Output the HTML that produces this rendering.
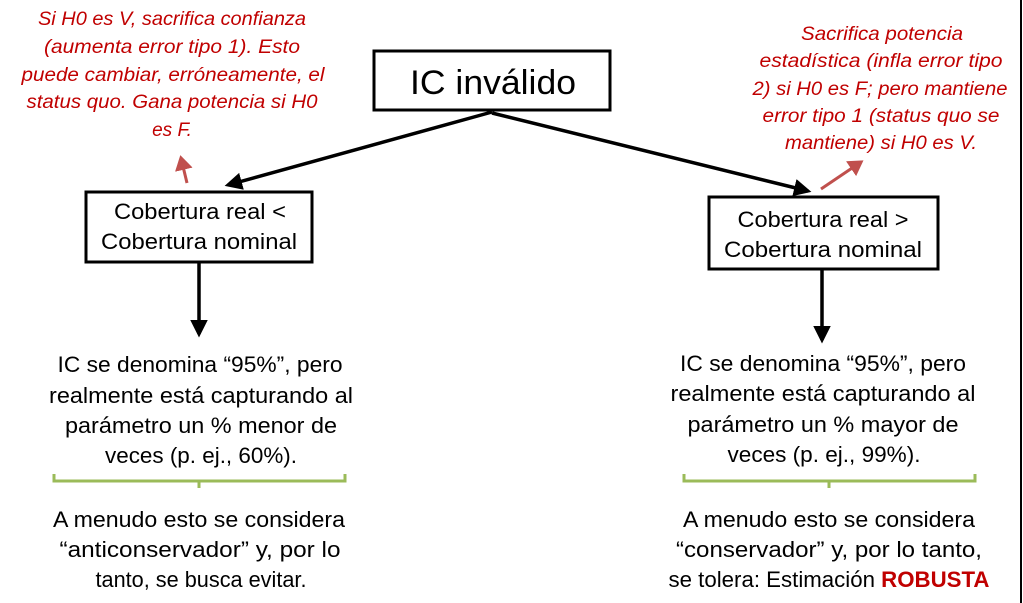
<!DOCTYPE html>
<html><head><meta charset="utf-8"><style>
html,body{margin:0;padding:0;background:#fff;}
svg{display:block;}
text{font-family:"Liberation Sans",sans-serif;}
.r{fill:#c00000;font-style:italic;font-size:19px;}
.b{fill:#000;font-size:22px;}
</style></head><body>
<svg width="1023" height="603" viewBox="0 0 1023 603" xmlns="http://www.w3.org/2000/svg">
<defs>
<marker id="ak" markerWidth="6" markerHeight="6" refX="4" refY="3" orient="auto" markerUnits="strokeWidth"><path d="M0,0.5 L5,3 L0,5.5 z" fill="#000"/></marker>
<marker id="ar" markerWidth="6" markerHeight="6" refX="4" refY="3" orient="auto" markerUnits="strokeWidth"><path d="M0,0 L5,3 L0,6 z" fill="#c0504d"/></marker>
</defs>
<line x1="1021" y1="0" x2="1021" y2="603" stroke="#000" stroke-width="2"/>
<rect x="374" y="51" width="236" height="59" fill="#fff" stroke="#000" stroke-width="3"/>
<text x="493" y="94" text-anchor="middle" font-size="34" textLength="166" lengthAdjust="spacingAndGlyphs">IC inválido</text>
<rect x="86" y="192" width="226" height="70" fill="#fff" stroke="#000" stroke-width="3"/>
<text class="b" x="200" y="219" text-anchor="middle" textLength="172" lengthAdjust="spacingAndGlyphs">Cobertura real &lt;</text>
<text class="b" x="199" y="249" text-anchor="middle" textLength="196" lengthAdjust="spacingAndGlyphs">Cobertura nominal</text>
<rect x="709" y="197" width="229" height="72" fill="#fff" stroke="#000" stroke-width="3"/>
<text class="b" x="823" y="227" text-anchor="middle" textLength="171" lengthAdjust="spacingAndGlyphs">Cobertura real &gt;</text>
<text class="b" x="823" y="257" text-anchor="middle" textLength="198" lengthAdjust="spacingAndGlyphs">Cobertura nominal</text>
<line x1="492" y1="112" x2="228" y2="185" stroke="#000" stroke-width="3.5" marker-end="url(#ak)"/>
<line x1="492" y1="113" x2="808" y2="191" stroke="#000" stroke-width="3.5" marker-end="url(#ak)"/>
<line x1="199" y1="263" x2="199" y2="334" stroke="#000" stroke-width="3.5" marker-end="url(#ak)"/>
<line x1="822" y1="270" x2="822" y2="340" stroke="#000" stroke-width="3.5" marker-end="url(#ak)"/>
<line x1="187" y1="183" x2="181" y2="158" stroke="#c0504d" stroke-width="3" marker-end="url(#ar)"/>
<line x1="821" y1="189" x2="861" y2="162" stroke="#c0504d" stroke-width="3" marker-end="url(#ar)"/>
<g class="r" text-anchor="middle">
<text x="172" y="25" textLength="268" lengthAdjust="spacingAndGlyphs">Si H0 es V, sacrifica confianza</text>
<text x="172" y="53" textLength="256" lengthAdjust="spacingAndGlyphs">(aumenta error tipo 1). Esto</text>
<text x="173" y="81" textLength="303" lengthAdjust="spacingAndGlyphs">puede cambiar, erróneamente, el</text>
<text x="172" y="108" textLength="291" lengthAdjust="spacingAndGlyphs">status quo. Gana potencia si H0</text>
<text x="172" y="136">es F.</text>
<text x="882" y="40" textLength="162" lengthAdjust="spacingAndGlyphs">Sacrifica potencia</text>
<text x="881" y="67" textLength="243" lengthAdjust="spacingAndGlyphs">estadística (infla error tipo</text>
<text x="880" y="95" textLength="255" lengthAdjust="spacingAndGlyphs">2) si H0 es F; pero mantiene</text>
<text x="881" y="122" textLength="237" lengthAdjust="spacingAndGlyphs">error tipo 1 (status quo se</text>
<text x="881" y="149" textLength="192" lengthAdjust="spacingAndGlyphs">mantiene) si H0 es V.</text>
</g>
<g class="b" text-anchor="middle">
<text x="200" y="372" textLength="285" lengthAdjust="spacingAndGlyphs">IC se denomina “95%”, pero</text>
<text x="201" y="403" textLength="304" lengthAdjust="spacingAndGlyphs">realmente está capturando al</text>
<text x="201" y="433" textLength="272" lengthAdjust="spacingAndGlyphs">parámetro un % menor de</text>
<text x="201" y="463" textLength="192" lengthAdjust="spacingAndGlyphs">veces (p. ej., 60%).</text>
<text x="823" y="371" textLength="286" lengthAdjust="spacingAndGlyphs">IC se denomina “95%”, pero</text>
<text x="823" y="401" textLength="305" lengthAdjust="spacingAndGlyphs">realmente está capturando al</text>
<text x="823" y="432" textLength="271" lengthAdjust="spacingAndGlyphs">parámetro un % mayor de</text>
<text x="824" y="462" textLength="193" lengthAdjust="spacingAndGlyphs">veces (p. ej., 99%).</text>
<text x="199" y="527" textLength="292" lengthAdjust="spacingAndGlyphs">A menudo esto se considera</text>
<text x="200" y="557" textLength="281" lengthAdjust="spacingAndGlyphs">“anticonservador” y, por lo</text>
<text x="201" y="587" textLength="211" lengthAdjust="spacingAndGlyphs">tanto, se busca evitar.</text>
<text x="829" y="527" textLength="292" lengthAdjust="spacingAndGlyphs">A menudo esto se considera</text>
<text x="829" y="557" textLength="306" lengthAdjust="spacingAndGlyphs">“conservador” y, por lo tanto,</text>
<text x="829" y="587" textLength="321" lengthAdjust="spacingAndGlyphs">se tolera: Estimación <tspan fill="#c00000" font-weight="bold">ROBUSTA</tspan></text>
</g>
<path d="M54,474 V481 H345 V474 M199,481 V488" fill="none" stroke="#9bbb59" stroke-width="3"/>
<path d="M684,474 V481 H975 V474 M829,481 V488" fill="none" stroke="#9bbb59" stroke-width="3"/>
</svg>
</body></html>
